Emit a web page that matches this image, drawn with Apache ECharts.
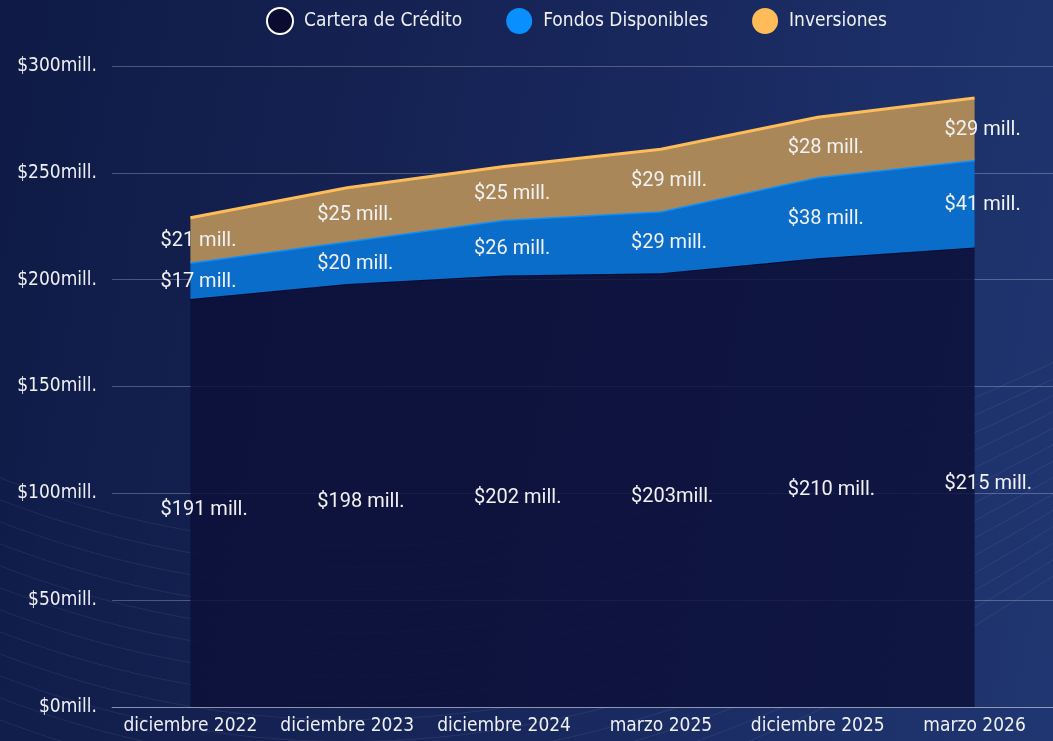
<!DOCTYPE html>
<html>
<head>
<meta charset="utf-8">
<script src="https://cdn.jsdelivr.net/npm/echarts@6/dist/echarts.min.js"></script>
<style>
  html, body { margin: 0; padding: 0; }
  body { width: 1053px; height: 741px; background: linear-gradient(100deg, #0f1a45 0%, #17265a 50%, #203672 100%); }
  #chart { width: 1053px; height: 741px; }
</style>
</head>
<body>
<div id="chart"></div>
<script>
// datos del grafico
var categories = ['diciembre 2022', 'diciembre 2023', 'diciembre 2024', 'marzo 2025', 'diciembre 2025', 'marzo 2026'];
var cartera = [191, 198, 202, 203, 210, 215];
var fondos = [17, 20, 26, 29, 38, 41];
var inversiones = [21, 25, 25, 29, 28, 29];
var carteraLabels = ['$191 mill.', '$198 mill.', '$202 mill.', '$203mill.', '$210 mill.', '$215 mill.'];
var yTicks = [0, 50, 100, 150, 200, 250, 300];

var narrow = "'DejaVu Sans Condensed', 'Liberation Sans Narrow', sans-serif";
var labelFont = "Roboto, 'Noto Sans', sans-serif";

// centro de cada banda para las etiquetas
var carteraMid = cartera.map(function (v) { return v / 2; });
var fondosMid = fondos.map(function (v, i) { return cartera[i] + v / 2; });
var invMid = inversiones.map(function (v, i) { return cartera[i] + fondos[i] + v / 2; });

function labelSeries(name, mids, texts, dy) {
  return {
    name: name,
    type: 'line',
    data: mids,
    symbol: 'circle',
    symbolSize: 1,
    showSymbol: true,
    silent: true,
    itemStyle: { color: 'rgba(0,0,0,0)' },
    lineStyle: { width: 0, opacity: 0 },
    z: 10,
    label: {
      show: true,
      position: 'inside',
      align: 'left',
      verticalAlign: 'middle',
      offset: [-30, dy],
      color: '#f2f2f5',
      fontSize: 20,
      fontFamily: labelFont,
      formatter: function (p) { return texts[p.dataIndex]; }
    }
  };
}

// curvas decorativas del fondo
var curves = [];
for (var k = 0; k < 14; k++) {
  var y0 = 470 + k * 22;
  curves.push({
    type: 'bezierCurve',
    silent: true,
    z: -10,
    shape: { x1: -20, y1: y0, x2: 1080, y2: y0 - 120 - k * 6, cpx1: 350, cpy1: y0 + 150, cpx2: 700, cpy2: y0 + 60 },
    style: { stroke: 'rgba(255,255,255,0.07)', lineWidth: 1, fill: null }
  });
}

var myChart = echarts.init(document.getElementById('chart'));
var option = {
  backgroundColor: 'transparent',
  graphic: curves,
  legend: {
    data: ['Cartera de Crédito', 'Fondos Disponibles', 'Inversiones'],
    left: 261,
    top: 2,
    itemWidth: 26,
    itemHeight: 26,
    itemGap: 44,
    icon: 'circle',
    textStyle: { color: '#eef0f6', fontSize: 19, fontFamily: narrow, padding: [0, 0, 0, 6] }
  },
  grid: { left: 112, right: 0, top: 66, bottom: 34, containLabel: false },
  xAxis: {
    type: 'category',
    data: categories,
    boundaryGap: true,
    axisLine: { show: true, lineStyle: { color: 'rgba(255,255,255,0.35)', width: 1 } },
    axisTick: { show: false },
    axisLabel: { color: '#eef0f6', fontSize: 19, fontFamily: narrow, margin: 10, interval: 0 }
  },
  yAxis: {
    type: 'value',
    min: 0,
    max: 300,
    interval: 50,
    axisLine: { show: false },
    axisTick: { show: false },
    splitLine: { lineStyle: { color: 'rgba(255,255,255,0.25)', width: 1 } },
    axisLabel: {
      color: '#eef0f6', fontSize: 19, fontFamily: narrow, margin: 15,
      formatter: function (v) { return yTicks.indexOf(v) >= 0 ? '$' + v + 'mill.' : ''; }
    }
  },
  series: [
    {
      name: 'Cartera de Crédito',
      type: 'line',
      stack: 'total',
      data: cartera,
      symbol: 'none',
      itemStyle: { color: '#0a0b30', borderColor: '#ffffff', borderWidth: 2 },
      lineStyle: { color: '#0a0b2e', width: 2 },
      areaStyle: { color: 'rgba(12,16,56,0.82)', opacity: 1 },
      z: 3
    },
    {
      name: 'Fondos Disponibles',
      type: 'line',
      stack: 'total',
      data: fondos,
      symbol: 'none',
      itemStyle: { color: '#0a8fff' },
      lineStyle: { color: '#0a8fff', width: 3 },
      areaStyle: { color: '#0a6dca', opacity: 1 },
      z: 4
    },
    {
      name: 'Inversiones',
      type: 'line',
      stack: 'total',
      data: inversiones,
      symbol: 'none',
      itemStyle: { color: '#ffbc58' },
      lineStyle: { color: '#ffbc58', width: 3 },
      areaStyle: { color: '#a98759', opacity: 1 },
      z: 5
    },
    labelSeries('etq-cartera', carteraMid, carteraLabels, 7),
    labelSeries('etq-fondos', fondosMid, fondos.map(function (v) { return '$' + v + ' mill.'; }), 1),
    labelSeries('etq-inversiones', invMid, inversiones.map(function (v) { return '$' + v + ' mill.'; }), 1)
  ]
};
myChart.setOption(option);
</script>
</body>
</html>
